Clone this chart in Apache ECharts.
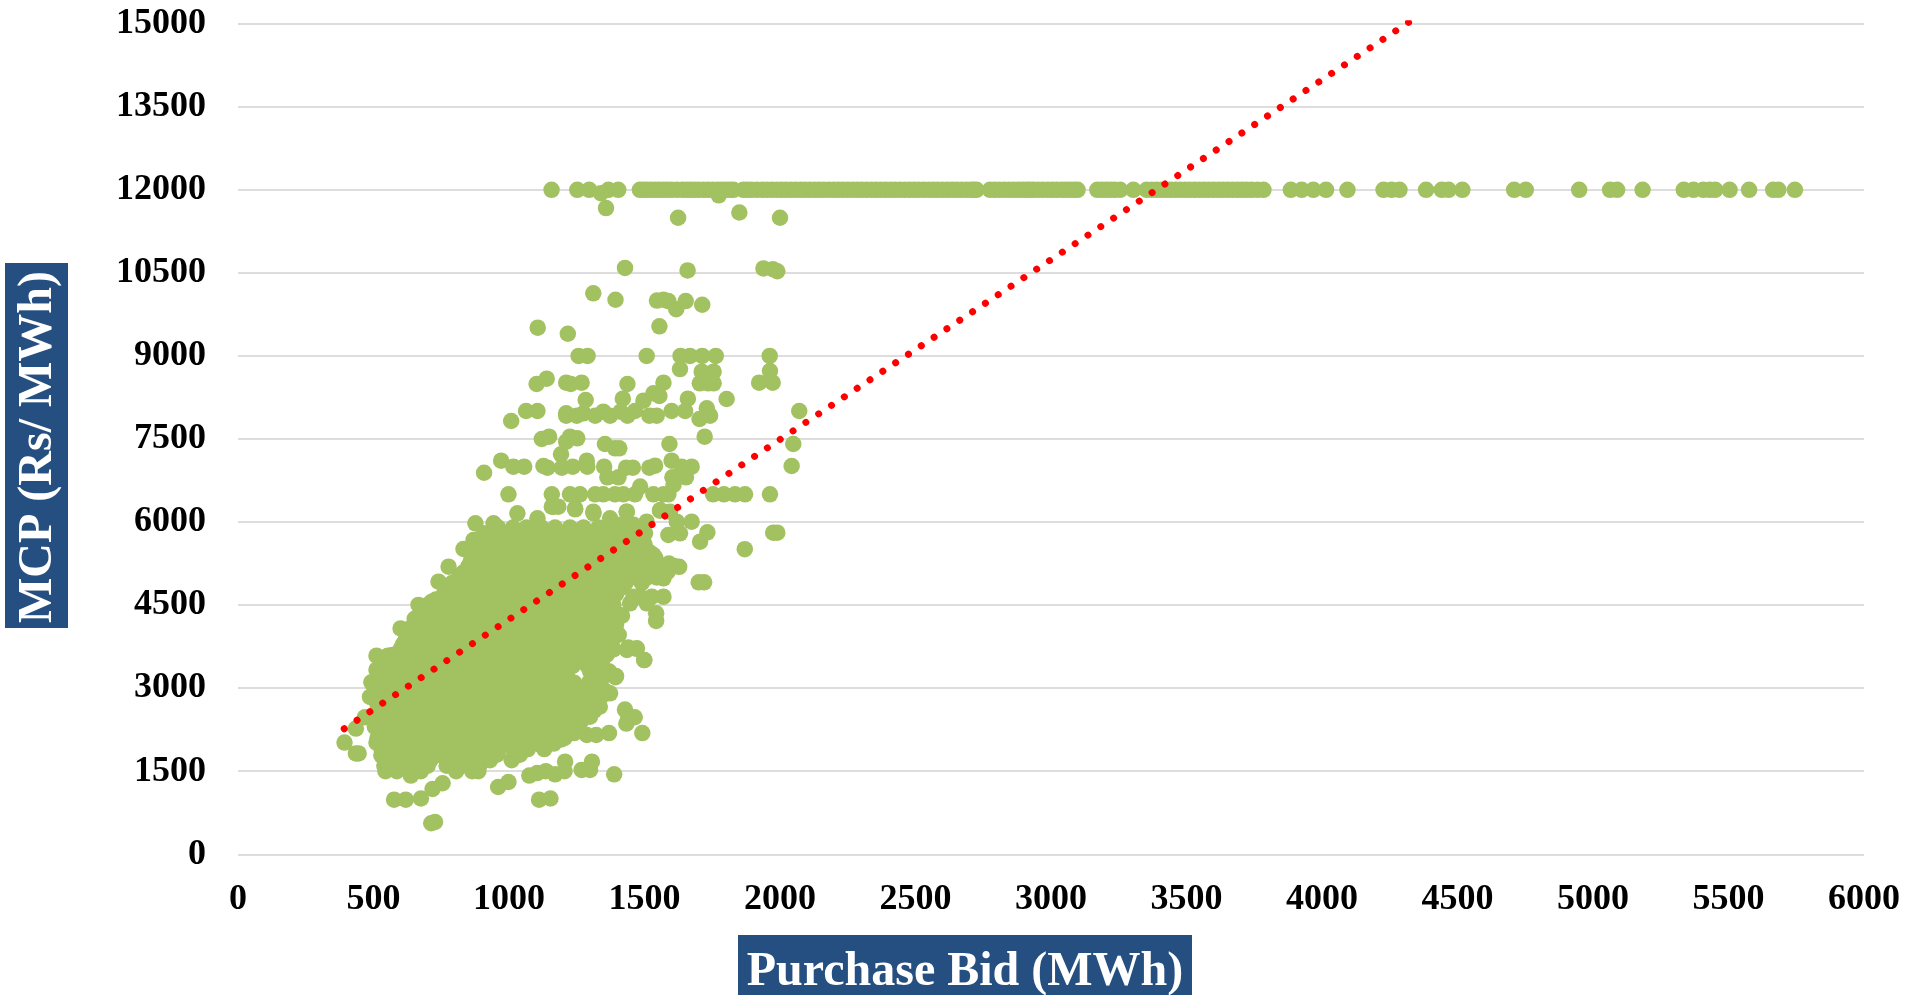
<!DOCTYPE html>
<html>
<head>
<meta charset="utf-8">
<style>html,body{margin:0;padding:0;background:#fff;overflow:hidden}#c{width:1924px;height:995px}</style>
<script src="https://cdn.jsdelivr.net/npm/echarts@6/dist/echarts.min.js"></script>
</head>
<body>
<div id="c"></div>
<script>
const xTitle = 'Purchase Bid (MWh)';
const yTitle = 'MCP (Rs/ MWh)';
const xMax = 6000, xStep = 500, yMax = 15000, yStep = 1500;

// Points sitting on the 12000 Rs cap: purchase bid values
const capLevel = 12000;
const capBids = [1157,1252,1296,1367,1403,1483,1510,1540,1570,1600,1640,1670,1700,1735,1770,1800,1828,1865,1895,1935,1970,2005,2040,2075,2110,2145,2180,2215,2250,2285,2320,2355,2390,2425,2460,2495,2530,2565,2600,2635,2670,2705,2725,2775,2810,2845,2880,2910,2935,2970,3005,3040,3070,3098,3171,3205,3235,3255,3304,3353,3390,3425,3460,3495,3530,3565,3600,3635,3670,3705,3740,3784,3885,3925,3968,4015,4094,4227,4257,4286,4384,4442,4467,4518,4709,4752,4949,5063,5089,5183,5335,5371,5407,5431,5451,5504,5576,5665,5684,5745];
const capBidsDense = [1496,1525,1555,1585,1620,1655,1685,1718,1752,1785,1815,1880,1915,1952,1988,2022,2058,2092,2128,2162,2198,2232,2268,2302,2338,2372,2408,2442,2478,2512,2548,2582,2618,2652,2688,2715,2792,2828,2862,2895,2922,2952,2988,3022,3055,3085,3188,3220,3372,3408,3442,3478,3512,3548,3582,3618,3652,3688,3722,3762];

// Sparse points above the dense cloud [bid, mcp]
const upperPoints = [[1339,11940],[1358,11670],[1624,11495],[1850,11590],[1774,11900],[2000,11495],[1428,10590],[1659,10545],[1939,10580],[1974,10565],[1990,10530],[1311,10130],[1393,10015],[1546,10000],[1570,10015],[1588,9990],[1617,9845],[1652,9990],[1713,9925],[1555,9535],[1106,9510],[1217,9400],[1257,9000],[1290,9000],[1508,9000],[1633,9000],[1668,9000],[1713,9000],[1763,9000],[1962,9000],[1631,8762],[1711,8716],[1755,8716],[1704,8505],[1735,8505],[1755,8505],[1963,8727],[1923,8517],[1973,8517],[1803,8222],[2071,8005],[2049,7410],[2043,7012],[1963,6500],[1753,6500],[1793,6500],[1834,6500],[1871,6500],[1975,5808],[1990,5808],[1870,5510],[1102,8493],[1139,8590],[1211,8517],[1228,8493],[1268,8517],[1437,8493],[1570,8517],[1283,8204],[1420,8229],[1496,8192],[1533,8325],[1555,8277],[1660,8229],[1730,8054],[1063,8006],[1105,8006],[1008,7825],[1211,7964],[1211,7922],[1250,7922],[1275,7964],[1318,7922],[1348,7994],[1373,7922],[1412,7994],[1437,7922],[1465,8006],[1518,7922],[1545,7922],[1600,8006],[1650,8006],[1703,7861],[1742,7922],[1121,7500],[1148,7542],[1211,7452],[1225,7542],[1252,7512],[1354,7410],[1391,7331],[1407,7331],[1592,7410],[1722,7542],[1192,7223],[971,7109],[1016,7000],[1056,7000],[1127,7012],[1142,6982],[1195,6982],[1235,7000],[1287,7109],[1289,7000],[1351,7000],[1363,6808],[1404,6808],[1432,6982],[1457,6982],[1518,6982],[1539,7018],[1600,7109],[1637,7000],[1674,7000],[1603,6808],[1653,6808],[1607,6670],[908,6890],[998,6500],[1158,6500],[1225,6500],[1262,6500],[1318,6500],[1348,6500],[1391,6500],[1422,6500],[1465,6500],[1484,6640],[1533,6500],[1570,6500],[1588,6500],[1158,6278],[1182,6278],[1244,6248],[1311,6188],[1434,6188],[1557,6206],[1674,6007],[1594,6188]];

// Outline of the dense cloud [bid, mcp]
const edgePoints = [[876,5977],[943,5977],[1031,6158],[1105,6068],[1164,6278],[1244,6230],[1312,6158],[1373,6068],[1435,6188],[1508,6007],[1588,5767],[1631,5797],[1619,6007],[1558,6218],[1705,5646],[1732,5815],[1720,4912],[1700,4912],[1533,5405],[1502,5797],[1609,5207],[1570,4984],[1628,5191],[1569,5054],[1459,4653],[1484,4653],[1527,4653],[1570,4653],[1447,4533],[1508,4533],[1543,4352],[1543,4214],[1410,4322],[1398,3991],[1435,3690],[1472,3720],[1499,3509],[1395,3220],[1336,3509],[1373,2907],[1299,3329],[832,5514],[869,5676],[906,5797],[777,5195],[740,4924],[829,5074],[912,5225],[715,4563],[678,4442],[666,4504],[718,4538],[600,4080],[652,4252],[511,3587],[553,3587],[605,3736],[511,3335],[492,3106],[487,2842],[468,2475],[435,2270],[393,2017],[435,1822],[445,1822],[511,2017],[529,1788],[544,1501],[586,1501],[638,1421],[675,1501],[576,986],[619,986],[675,1008],[718,1180],[755,1283],[713,561],[727,584],[805,1501],[864,1501],[887,1501],[960,1215],[998,1306],[1075,1421],[1104,1467],[1136,1501],[1170,1444],[1205,1501],[1111,986],[1153,1008],[1268,1524],[1299,1524],[1306,1673],[1388,1444],[1207,1673],[1122,1960],[1040,1811],[958,1822],[904,1788],[1492,2189],[1440,2498],[1464,2475],[1428,2613],[1433,2361],[1369,2189],[1322,2155],[1287,2155],[1240,2189],[1193,2074],[1346,2876],[1393,3197],[1440,3736],[1469,3713],[1499,3507],[1405,3965],[1417,4309]];

// Extra points read at the cloud's right-hand shoulder [bid, mcp]
const shoulderPoints = [[1520,5200],[1560,5150],[1585,5100],[1545,5000],[1590,5250],[1500,5300],[1540,5350],[1410,5950],[1460,5950],[1480,5800],[1450,5700],[1460,5650],[1500,5600],[1440,5500],[1480,5450],[1500,5400],[1450,5300],[1520,5450],[1300,3300],[1340,3150],[1355,2950],[1323,2820],[1335,2666],[1299,2485],[1232,2200],[1380,3850],[1395,4150]];

// Dense cloud: bids read along each price level
const coreLevels = [1600,1700,1800,1900,2000,2100,2200,2300,2400,2500,2600,2700,2800,2900,3000,3100,3200,3300,3400,3500,3600,3700,3800,3900,4000,4100,4200,4300,4400,4500,4600,4700,4800,4900,5000,5100,5200,5300,5400,5500,5600,5700,5800,5900];
const core1600 = [540,580,620,660,700,770,810,850,890];
const core1700 = [560,610,660,710,770,820,880,930,1010];
const core1800 = [585,635,685,740,795,845,905,955,1040];
const core1900 = [530,585,640,690,745,800,850,905,960,1015,1070,1130];
const core2000 = [540,590,640,690,740,790,845,895,950,1000,1055,1110,1165];
const core2100 = [515,565,615,665,715,765,820,870,925,975,1030,1085,1150,1205];
const core2200 = [530,585,635,690,740,790,845,895,945,1000,1050,1105,1160,1215];
const core2300 = [505,560,610,660,710,760,815,865,920,970,1025,1075,1130,1180,1240];
const core2400 = [530,585,635,685,735,790,840,890,945,995,1050,1100,1155,1205,1265];
const core2500 = [500,555,605,655,710,760,810,865,915,965,1020,1070,1125,1175,1230,1290];
const core2600 = [525,580,630,680,735,785,840,890,940,995,1045,1100,1150,1205,1260,1315];
const core2700 = [515,565,620,670,720,775,825,875,930,980,1035,1085,1140,1190,1250,1300];
const core2800 = [525,580,630,680,735,785,835,890,940,995,1045,1100,1150,1205,1260,1320];
const core2900 = [500,550,605,655,705,760,810,860,915,965,1020,1070,1125,1175,1230,1285,1345];
const core3000 = [525,575,630,680,735,785,835,890,940,990,1045,1095,1150,1200,1260,1315];
const core3100 = [510,565,615,665,720,770,825,875,925,980,1030,1085,1135,1190,1240,1295];
const core3200 = [535,590,640,695,745,800,850,900,955,1005,1060,1110,1165,1215,1330];
const core3300 = [530,580,635,685,735,790,840,895,945,1000,1050,1105,1155,1210,1320,1370];
const core3400 = [555,610,660,710,765,815,870,920,975,1025,1080,1130,1185,1235,1290,1345];
const core3500 = [540,595,645,700,750,805,855,910,960,1015,1065,1120,1170,1225,1275,1330];
const core3600 = [570,625,675,730,780,835,885,940,990,1045,1095,1150,1200,1255,1305,1360];
const core3700 = [600,650,705,755,810,860,915,965,1020,1070,1125,1175,1230,1280,1335,1385];
const core3800 = [610,665,730,780,835,890,940,995,1045,1100,1150,1205,1255,1310,1365];
const core3900 = [620,675,725,780,830,885,935,990,1040,1095,1145,1200,1250,1305,1355];
const core4000 = [650,700,755,805,860,910,965,1015,1070,1120,1175,1225,1280,1335,1390];
const core4100 = [640,695,745,800,850,905,955,1010,1060,1115,1165,1220,1270,1325,1380];
const core4200 = [660,715,770,825,875,930,980,1035,1085,1140,1190,1245,1295,1350,1395];
const core4300 = [680,730,785,835,890,940,995,1045,1100,1150,1205,1255,1310,1360,1410];
const core4400 = [700,755,810,860,915,965,1020,1070,1125,1175,1230,1280,1335,1385];
const core4500 = [700,750,805,855,910,960,1015,1065,1120,1170,1225,1275,1330,1385];
const core4600 = [730,785,835,890,940,995,1045,1100,1150,1205,1255,1310,1365];
const core4700 = [760,810,865,915,970,1020,1075,1125,1180,1230,1285,1335,1395];
const core4800 = [775,830,885,935,990,1040,1095,1145,1200,1250,1305,1355,1410];
const core4900 = [790,840,895,945,1000,1050,1105,1155,1210,1260,1315,1370,1430,1490];
const core5000 = [815,865,920,970,1025,1075,1130,1180,1235,1285,1340,1395,1450,1510];
const core5100 = [835,885,940,990,1045,1095,1150,1200,1255,1305,1360,1415,1475,1540];
const core5200 = [850,900,955,1005,1060,1110,1165,1215,1270,1320,1375,1430,1490];
const core5300 = [860,915,965,1020,1070,1125,1175,1230,1280,1335,1390,1440];
const core5400 = [875,930,980,1035,1085,1140,1190,1245,1295,1350,1405,1455];
const core5500 = [890,945,995,1050,1100,1155,1205,1260,1310,1365,1420,1470];
const core5600 = [910,965,1015,1070,1120,1175,1225,1280,1330,1385,1440];
const core5700 = [930,985,1035,1090,1140,1195,1245,1300,1350,1405,1460];
const core5800 = [945,1000,1050,1105,1155,1210,1260,1315,1370,1420,1475];
const core5900 = [960,1015,1065,1120,1170,1225,1275,1330,1385,1440,1490];
const coreBids = [core1600,core1700,core1800,core1900,core2000,core2100,core2200,core2300,core2400,core2500,core2600,core2700,core2800,core2900,core3000,core3100,core3200,core3300,core3400,core3500,core3600,core3700,core3800,core3900,core4000,core4100,core4200,core4300,core4400,core4500,core4600,core4700,core4800,core4900,core5000,core5100,core5200,core5300,core5400,core5500,core5600,core5700,core5800,core5900];

// Linear trendline end points (the upper end runs just past the axis top, where it is clipped)
const trendPoints = [[392,2268],[4340,15091]];

const scatterData = [];
capBids.forEach(b => scatterData.push([b, capLevel]));
capBidsDense.forEach(b => scatterData.push([b, capLevel]));
upperPoints.forEach(p => scatterData.push(p));
coreBids.forEach((row, i) => row.forEach(b => scatterData.push([b, coreLevels[i]])));
edgePoints.forEach(p => scatterData.push(p));
shoulderPoints.forEach(p => scatterData.push(p));

const font = '"Liberation Serif","Times New Roman",serif';
const tick = {fontFamily: font, fontWeight: 'bold', fontSize: 36, color: '#000', formatter: v => String(v)};
const chart = echarts.init(document.getElementById('c'), null, {renderer: 'canvas', width: 1924, height: 995});
chart.setOption({
  animation: false,
  backgroundColor: '#fff',
  grid: {left: 238, right: 60, top: 23.7, bottom: 140.7, containLabel: false},
  xAxis: {
    type: 'value', min: 0, max: xMax, interval: xStep,
    axisLine: {show: false}, axisTick: {show: false}, splitLine: {show: false},
    axisLabel: Object.assign({margin: 27, showMaxLabel: true, showMinLabel: true}, tick)
  },
  yAxis: {
    type: 'value', min: 0, max: yMax, interval: yStep,
    axisLine: {show: false}, axisTick: {show: false},
    splitLine: {show: true, lineStyle: {color: '#DDDDDD', width: 2}},
    axisLabel: Object.assign({margin: 32, showMaxLabel: true, showMinLabel: true, padding: [4, 0, 0, 0]}, tick)
  },
  series: [
    {type: 'scatter', name: 'MCP', data: scatterData, symbol: 'circle', symbolSize: 16.5,
     itemStyle: {color: '#A2C161', opacity: 1}, silent: true, z: 2, clip: false},
    {type: 'line', name: 'Trend', data: trendPoints, symbol: 'none', silent: true, z: 3,
     lineStyle: {color: '#FF0000', width: 7, type: [0.01, 15.38], cap: 'round'}}
  ],
  graphic: [
    {type: 'rect', left: 738, top: 935, shape: {width: 454, height: 60}, style: {fill: '#254F81'}, z: 10},
    {type: 'text', x: 965, y: 973, z: 11,
     style: {text: xTitle, fill: '#fff', font: 'bold 48px ' + font, textAlign: 'center', textVerticalAlign: 'middle'}},
    {type: 'rect', left: 5, top: 263, shape: {width: 63, height: 365}, style: {fill: '#254F81'}, z: 10},
    {type: 'text', x: 39, y: 447, rotation: Math.PI / 2, z: 11,
     style: {text: yTitle, fill: '#fff', font: 'bold 48px ' + font, textAlign: 'center', textVerticalAlign: 'middle'}}
  ]
});
</script>
</body>
</html>
